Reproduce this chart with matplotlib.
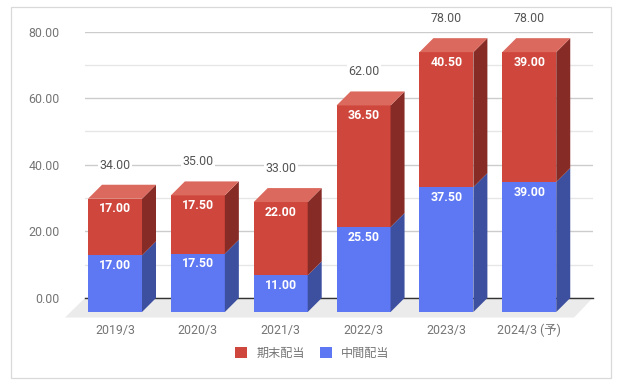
import matplotlib
matplotlib.use("Agg")
import matplotlib.pyplot as plt
from matplotlib.patches import Polygon, Rectangle

years = ["2019/3", "2020/3", "2021/3", "2022/3", "2023/3", "2024/3 (予)"]
interim = [17.00, 17.50, 11.00, 25.50, 37.50, 39.00]
final = [17.00, 17.50, 22.00, 36.50, 40.50, 39.00]
totals = [34.00, 35.00, 33.00, 62.00, 78.00, 78.00]
y_ticks = [0, 20, 40, 60, 80]
y_minor = [10, 30, 50, 70]

W, H = 618, 385
PX_X = 82.85  # pixels per category
PX_Y = 3.33  # pixels per y unit
DX = 14 / PX_X  # 3d depth in data units
DY = 14 / PX_Y
BAR_W = 54 / PX_X

RED, RED_SIDE, RED_TOP = "#cf463c", "#862b26", "#db695e"
BLUE, BLUE_SIDE = "#5e78f3", "#3d4f9f"
FONT = ["Roboto", "Noto Sans CJK JP"]
plt.rcParams["font.family"] = FONT


def draw_segment(ax, x, y0, y1, front, side):
    # x is the centre of the back face, y0/y1 in data units
    ax.bar(x - DX, y1 - y0, BAR_W, bottom=y0 - DY, color=front, lw=0,
           zorder=3, clip_on=False)
    xr = x - DX + BAR_W / 2
    ax.add_patch(Polygon([(xr, y0 - DY), (xr, y1 - DY), (xr + DX, y1), (xr + DX, y0)],
                         closed=True, fc=side, ec="none", zorder=3, clip_on=False))


fig = plt.figure(figsize=(W / 100, H / 100), dpi=100)
fig.add_artist(Rectangle((10.5 / W, 1 - 378 / H), 600.5 / W, 371.5 / H,
                         transform=fig.transFigure, fc="white", ec="#d9d9d9", lw=0.9,
                         zorder=-1))

ax = fig.add_axes([84.5 / W, 1 - 298 / H, 508.2 / W, 266.5 / H])
ax.patch.set_alpha(0)
ax.set_xlim((84.5 - 129) / PX_X, (592.7 - 129) / PX_X)
ax.set_ylim(0, 80)
for s in ["top", "left", "right"]:
    ax.spines[s].set_visible(False)
ax.spines["bottom"].set_color("#333333")
ax.spines["bottom"].set_linewidth(1.0)
ax.spines["bottom"].set_zorder(2)

ax.set_yticks(y_ticks)
ax.set_yticklabels(["%.2f" % v for v in y_ticks], va="center_baseline")
ax.set_yticks(y_minor, minor=True)
ax.set_axisbelow(True)
ax.grid(True, which="major", axis="y", color="#cccccc", lw=1.0)
ax.grid(True, which="minor", axis="y", color="#e6e6e6", lw=1.0)
ax.tick_params(axis="y", which="both", length=0, pad=18, labelsize=8.9, labelcolor="#757575")

xs = list(range(len(years)))
ax.set_xticks([x - DX for x in xs])
ax.set_xticklabels(years)
ax.tick_params(axis="x", length=0, pad=18.5, labelsize=8.9, labelcolor="#757575")

# floor under the bars
ax.add_patch(Polygon([((85 - 129) / PX_X, 0), ((592.7 - 129) / PX_X, 0),
                      ((574 - 129) / PX_X, -19.5 / PX_Y), ((65 - 129) / PX_X, -19.5 / PX_Y)],
                     closed=True, fc="#ebebeb", ec="none", zorder=1, clip_on=False))

for x, a, b, t in zip(xs, interim, final, totals):
    draw_segment(ax, x, 0, a, BLUE, BLUE_SIDE)
    draw_segment(ax, x, a, a + b, RED, RED_SIDE)
    xl = x - DX - BAR_W / 2
    xr = x - DX + BAR_W / 2
    top = a + b
    ax.add_patch(Polygon([(xl, top - DY), (xr, top - DY), (xr + DX, top), (xl + DX, top)],
                         closed=True, fc=RED_TOP, ec="none", zorder=3, clip_on=False))
    for val, y in ((a, a), (b, top)):
        ax.annotate("%.2f" % val, (x - DX, y - DY), xytext=(0, -10), textcoords="offset pixels",
                    ha="center", va="center", color="white", fontsize=8.9,
                    fontweight="bold", zorder=5)
    ax.annotate("%.2f" % t, (x - DX, top - DY), xytext=(0, 33.5), textcoords="offset pixels",
                ha="center", va="center", color="#555555", fontsize=8.9, zorder=5,
                annotation_clip=False,
                bbox=dict(fc="white", ec="none", pad=1.0))

handles = [Rectangle((0, 0), 1, 1, fc=RED, ec="none"),
           Rectangle((0, 0), 1, 1, fc=BLUE, ec="none")]
fig.legend(handles, ["期末配当", "中間配当"], ncol=2, frameon=False,
           loc="center", bbox_to_anchor=(312.5 / W, 1 - 353 / H),
           prop={"family": FONT, "size": 8.7}, labelcolor="#757575",
           handlelength=1.0, handleheight=1.0, handletextpad=0.75, columnspacing=1.25)

fig.savefig("out.png", dpi=100)
